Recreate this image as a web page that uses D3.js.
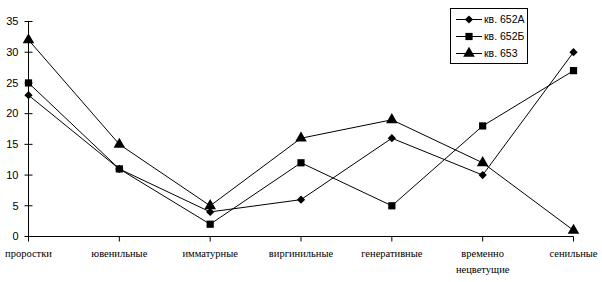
<!DOCTYPE html>
<html><head><meta charset="utf-8">
<script src="https://cdn.jsdelivr.net/npm/d3@7"></script>
<style>body{margin:0;background:#fff}svg{display:block}</style>
</head><body>
<script>
const categories = [["проростки"],["ювенильные"],["имматурные"],["виргинильные"],["генеративные"],["временно","нецветущие"],["сенильные"]];
const seriesNames = ["кв. 652А","кв. 652Б","кв. 653"];
const s652A = [23, 11, 4, 6, 16, 10, 30];
const s652B = [25, 11, 2, 12, 5, 18, 27];
const s653 = [32, 15, 5, 16, 19, 12, 1];
const yTicks = [0,5,10,15,20,25,30,35];
const series = [s652A, s652B, s653];
const symbols = [d3.symbolSquare, d3.symbolSquare, d3.symbolTriangle];
const symSizes = [34, 52, 58];
const symRot = [45, 0, 0];

const W = 602, H = 282;
const svg = d3.select("body").append("svg").attr("width", W).attr("height", H);
const x = d3.scalePoint().domain(d3.range(categories.length)).range([28.5, 573.5]);
const y = d3.scaleLinear().domain([0, 35]).range([236.5, 21.5]);

// y axis
const ya = svg.append("g").attr("transform","translate(28.5,0)");
ya.append("line").attr("y1", y(0)).attr("y2", y(35)).attr("stroke","#000");
yTicks.forEach(t => {
  ya.append("line").attr("x1",-4).attr("x2",4).attr("y1",y(t)).attr("y2",y(t)).attr("stroke","#000");
  ya.append("text").attr("x",-10).attr("y",y(t)).attr("dy","0.35em").attr("text-anchor","end")
    .attr("font-family","Liberation Sans, Arial, sans-serif").attr("font-size",11).text(t);
});
// x axis
const xa = svg.append("g");
xa.append("line").attr("x1", x(0)).attr("x2", x(categories.length-1)).attr("y1", y(0)).attr("y2", y(0)).attr("stroke","#000");
categories.forEach((c,i) => {
  xa.append("line").attr("x1",x(i)).attr("x2",x(i)).attr("y1",y(0)).attr("y2",y(0)+5).attr("stroke","#000");
  c.forEach((line,j) => {
    xa.append("text").attr("x",x(i)).attr("y",257 + j*16).attr("text-anchor","middle")
      .attr("font-family","Liberation Serif, Times New Roman, serif").attr("font-size",10.5).text(line);
  });
});

const lineGen = d3.line().x((d,i)=>x(i)).y(d=>y(d));
series.forEach((s,k) => {
  svg.append("path").attr("d", lineGen(s)).attr("fill","none").attr("stroke","#000").attr("stroke-width",1);
  svg.selectAll(null).data(s).enter().append("path")
    .attr("d", d3.symbol().type(symbols[k]).size(symSizes[k]))
    .attr("transform",(d,i)=>`translate(${x(i)},${y(d)}) rotate(${symRot[k]})`).attr("fill","#000");
});

// legend
const lg = svg.append("g");
lg.append("rect").attr("x",450.5).attr("y",8.5).attr("width",77).attr("height",55).attr("fill","#fff").attr("stroke","#000");
seriesNames.forEach((n,k) => {
  const yy = 19.5 + k*17;
  lg.append("line").attr("x1",456).attr("x2",482).attr("y1",yy).attr("y2",yy).attr("stroke","#000");
  lg.append("path").attr("d", d3.symbol().type(symbols[k]).size(symSizes[k])).attr("transform",`translate(469,${yy}) rotate(${symRot[k]})`).attr("fill","#000");
  lg.append("text").attr("x",484).attr("y",yy).attr("dy","0.35em").attr("font-family","Liberation Sans, Arial, sans-serif").attr("font-size",10.5).text(n);
});
</script>
</body></html>
